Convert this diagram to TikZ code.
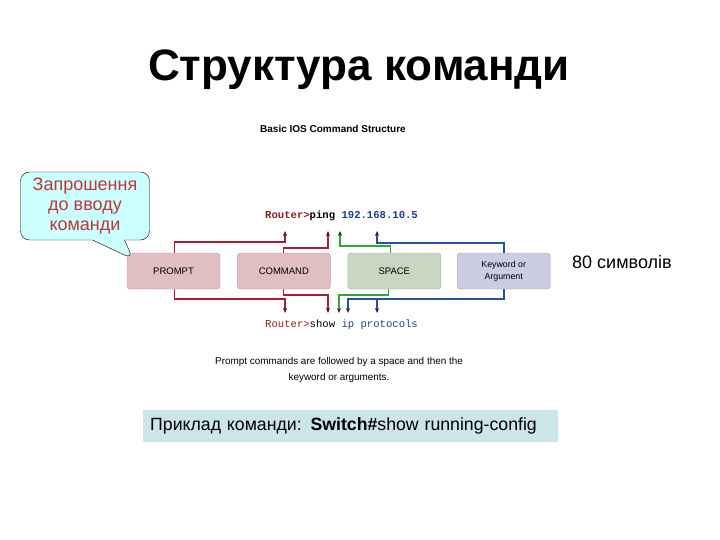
\documentclass[tikz,border=0pt]{standalone}
\usepackage{fontspec}
\setmainfont{Liberation Sans}
\setmonofont{Liberation Mono}
\usetikzlibrary{arrows.meta,positioning,calc,shapes.callouts}
\definecolor{promptbg}{RGB}{225,190,192}
\definecolor{promptline}{RGB}{200,158,160}
\definecolor{spacebg}{RGB}{200,214,196}
\definecolor{spaceline}{RGB}{160,176,155}
\definecolor{argbg}{RGB}{204,204,226}
\definecolor{argline}{RGB}{160,160,192}
\definecolor{redwire}{RGB}{170,30,50}
\definecolor{greenwire}{RGB}{50,165,50}
\definecolor{bluewire}{RGB}{40,80,160}
\definecolor{calloutbg}{RGB}{204,255,255}
\definecolor{callouttext}{RGB}{190,55,55}
\definecolor{examplebg}{RGB}{205,228,232}
\definecolor{cmdred}{RGB}{150,30,30}
\definecolor{cmdblue}{RGB}{30,60,150}
\newcommand{\partfont}{\fontsize{9.5}{10.5}\selectfont}
\tikzset{
  promptbox/.style={draw=promptline, fill=promptbg, rounded corners=3pt,
    align=center, inner sep=0pt, minimum width=93pt, minimum height=36pt,
    font=\partfont},
  spacebox/.style={draw=spaceline, fill=spacebg, rounded corners=3pt,
    align=center, inner sep=0pt, minimum width=93pt, minimum height=36pt,
    font=\partfont},
  argbox/.style={draw=argline, fill=argbg, rounded corners=3pt,
    align=center, inner sep=0pt, minimum width=93pt, minimum height=36pt,
    font=\fontsize{8.8}{10}\selectfont},
  cmdline/.style={anchor=west, inner sep=0pt, font=\ttfamily\fontsize{10.6}{12}\selectfont},
  wire/.style={line width=1.2pt, -{Stealth[length=5pt,width=4pt,color=black!85]}},
  redarrow/.style={wire, draw=redwire},
  greenarrow/.style={wire, draw=greenwire},
  bluearrow/.style={wire, draw=bluewire}
}
\begin{document}
\begin{tikzpicture}[x=1pt, y=-1pt, node distance=17pt and 17pt]
  \useasboundingbox[fill=white] (0,0) rectangle (720,540);
  \node[font=\bfseries\fontsize{44}{50}\selectfont] (title) at (359,70)
    {Структура команди};
  \node[font=\bfseries\fontsize{10}{12}\selectfont] (heading) at (333,129)
    {Basic IOS Command Structure};
  % parts of the command
  \node[promptbox] (prompt) at (173.5,271) {PROMPT};
  \node[promptbox, right=of prompt] (command) {COMMAND};
  \node[spacebox, right=of command] (space) {SPACE};
  \node[argbox, right=16pt of space] (arg) {Keyword or\\[2pt]Argument};
  \node[cmdline] (ping) at (265,216)
    {\textbf{\textcolor{cmdred}{Router>}ping \textcolor{cmdblue}{192.168.10.5}}};
  \node[cmdline] (show) at (265,325)
    {\textcolor{cmdred}{Router>}show \textcolor{cmdblue}{ip protocols}};
  \coordinate (upR) at (285,231);
  \coordinate (upping) at (328,231);
  \coordinate (upsp) at (340,231);
  \coordinate (upip) at (377,231);
  \coordinate (dnR) at (285,313);
  \coordinate (dnshow) at (328,313);
  \coordinate (dnsp) at (339,313);
  \coordinate (dnip) at (348,313);
  \coordinate (dnproto) at (377,313);
  \coordinate (protoline) at (377,299);
  % upper connectors
  \draw[redarrow] ($(prompt.north west)+(48,0)$) |- ($(upR)+(0,11)$) -- (upR);
  \draw[redarrow] ($(command.north west)+(46,0)$) |- ($(upping)+(0,17)$) -- (upping);
  \draw[greenarrow] ($(space.north west)+(43,0)$) |- ($(upsp)+(0,15)$) -- (upsp);
  \draw[bluearrow] ($(arg.north west)+(47,0)$) |- ($(upip)+(0,12)$) -- (upip);
  % lower connectors
  \draw[redarrow] ($(prompt.south west)+(48,0)$) |- ($(dnR)+(0,-14)$) -- (dnR);
  \draw[redarrow] ($(command.south west)+(46,0)$) |- ($(dnshow)+(0,-18)$) -- (dnshow);
  \draw[greenarrow] ($(space.south west)+(41,0)$) |- ($(dnsp)+(0,-18)$) -- (dnsp);
  \draw[bluearrow] ($(arg.south west)+(47,0)$) |- ($(dnip)+(0,-14)$) -- (dnip);
  \draw[bluearrow] (protoline) -- (dnproto);
  \node[align=center, font=\fontsize{9.9}{16}\selectfont] (note) at (339,370)
    {Prompt commands are followed by a space and then the\\keyword or arguments.};
  % annotations
  \node[rectangle callout, draw, fill=calloutbg, rounded corners=9pt,
    minimum width=129pt, minimum height=68pt, inner sep=2pt,
    callout absolute pointer={(133,259)}, callout pointer width=32pt,
    align=center, text=callouttext, font=\fontsize{18}{20}\selectfont]
    (invite) at (85,206) {Запрошення\\до вводу\\команди};
  \node[anchor=west, inner sep=0pt, font=\fontsize{18}{20}\selectfont] (limit)
    at (572,262) {80 символів};
  \node[anchor=west, fill=examplebg, minimum height=32pt, text width=401pt,
    inner xsep=7pt, align=left, font=\fontsize{17.7}{20}\selectfont] (sample)
    at (143,426) {Приклад команди: \textbf{Switch\#}show running-config};
\end{tikzpicture}
\end{document}
